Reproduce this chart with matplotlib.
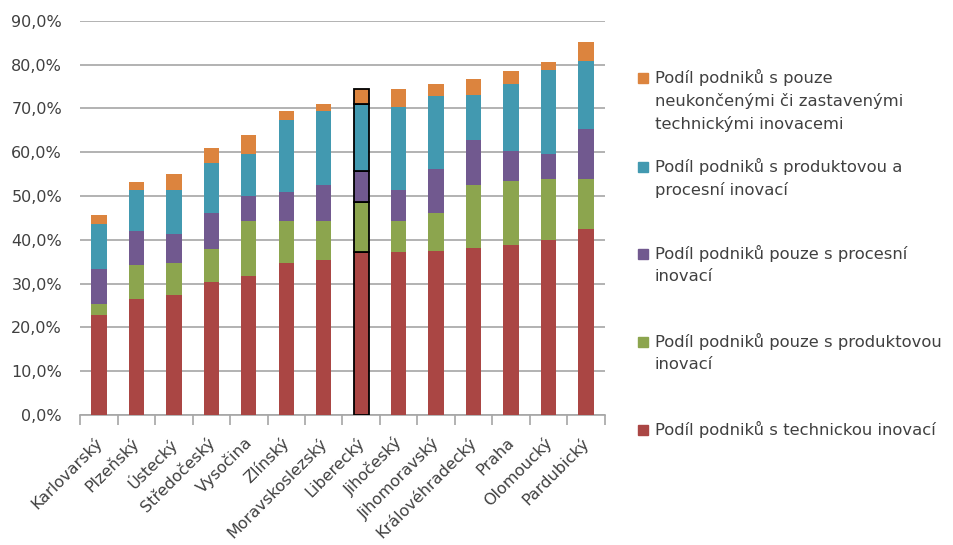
import numpy as np
import matplotlib.pyplot as plt
import matplotlib.patches as mpatches
import matplotlib.transforms as mtransforms
from matplotlib.ticker import FuncFormatter, FixedLocator

plt.rcParams['font.family'] = ['DejaVu Sans']

kraje = ['Karlovarský', 'Plzeňský', 'Ústecký', 'Středočeský', 'Vysočina', 'Zlínský',
         'Moravskoslezský', 'Liberecký', 'Jihočeský', 'Jihomoravský', 'Královéhradecký',
         'Praha', 'Olomoucký', 'Pardubický']

technicka = [22.8, 26.5, 27.5, 30.4, 31.8, 34.6, 35.4, 37.3, 37.1, 37.5, 38.2, 38.9, 40.0, 42.5]
pouze_produkt = [2.5, 7.7, 7.1, 7.4, 12.4, 9.6, 8.8, 11.4, 7.2, 8.5, 14.2, 14.6, 13.9, 11.4]
pouze_proces = [8.0, 7.9, 6.8, 8.2, 5.7, 6.8, 8.2, 7.1, 7.1, 10.1, 10.4, 6.8, 5.7, 11.4]
produkt_proces = [10.2, 9.3, 10.0, 11.5, 9.7, 16.4, 17.1, 15.2, 18.8, 16.7, 10.3, 15.3, 19.2, 15.6]
neukoncene = [2.2, 1.7, 3.5, 3.5, 4.2, 2.1, 1.4, 3.4, 4.3, 2.8, 3.5, 2.9, 1.8, 4.3]

nazvy = ['Podíl podniků s technickou inovací',
         'Podíl podniků pouze s produktovou\ninovací',
         'Podíl podniků pouze s procesní\ninovací',
         'Podíl podniků s produktovou a\nprocesní inovací',
         'Podíl podniků s pouze\nneukončenými či zastavenými\ntechnickými inovacemi']
barvy = ['#AA4644', '#8CA54E', '#71598F', '#4299B0', '#DC843E']
serie = [technicka, pouze_produkt, pouze_proces, produkt_proces, neukoncene]

zvyrazneny = 'Liberecký'
text_col = '#404040'

fig = plt.figure(figsize=(9.54, 5.45), dpi=100)
ax = fig.add_axes([0.084, 0.2385, 0.55, 0.7235])

x = np.arange(len(kraje))
spodek = np.zeros(len(kraje))
for hodnoty, barva in zip(serie, barvy):
    hodnoty = np.array(hodnoty)
    bars = ax.bar(x, hodnoty, 0.41, bottom=spodek, color=barva, zorder=3)
    for k, b in zip(kraje, bars):
        if k == zvyrazneny:
            b.set_edgecolor('black')
            b.set_linewidth(1.3)
    spodek += hodnoty

ax.set_xlim(-0.5, len(kraje) - 0.5)
ax.set_ylim(0, 90)
ax.set_yticks(np.arange(0, 91, 10))
ax.yaxis.set_major_formatter(FuncFormatter(lambda v, p: f'{v:.1f}%'.replace('.', ',')))
ax.grid(axis='y', color='#A6A6A6', linewidth=1.2, zorder=0)

for s in ['top', 'right', 'left']:
    ax.spines[s].set_visible(False)
ax.spines['bottom'].set_color('#A6A6A6')
ax.spines['bottom'].set_linewidth(1.2)

ax.tick_params(axis='y', length=0, pad=13, labelsize=11.5, labelcolor=text_col)
ax.xaxis.set_major_locator(FixedLocator(np.arange(-0.5, len(kraje), 1)))
ax.xaxis.set_major_formatter(FuncFormatter(lambda v, p: ''))
ax.tick_params(axis='x', which='major', direction='out', length=7, color='#A6A6A6', width=1.2)
ax.set_xticks(x, minor=True)
ax.set_xticklabels(kraje, minor=True, rotation=45, ha='right', rotation_mode='anchor',
                   fontsize=11.5, color=text_col)
ax.tick_params(axis='x', which='minor', length=0, pad=14)
posun = mtransforms.ScaledTranslation(-5 / 100, 0, fig.dpi_scale_trans)
for lbl in ax.get_xticklabels(minor=True):
    lbl.set_transform(lbl.get_transform() + posun)

# legenda vpravo, poradi odshora obracene
W, H = 954, 545
starty = [78, 167, 254, 342, 430]
for i, (nazev, barva) in enumerate(zip(nazvy[::-1], barvy[::-1])):
    y = starty[i]
    fig.patches.append(mpatches.Rectangle((638 / W, 1 - (y + 5) / H), 10 / W, 10 / H,
                                          transform=fig.transFigure, color=barva, figure=fig))
    fig.text(655 / W, 1 - (y - 9) / H, nazev, fontsize=11.8, color=text_col,
             va='top', ha='left', linespacing=1.55)

fig.savefig('out.png', dpi=100)
